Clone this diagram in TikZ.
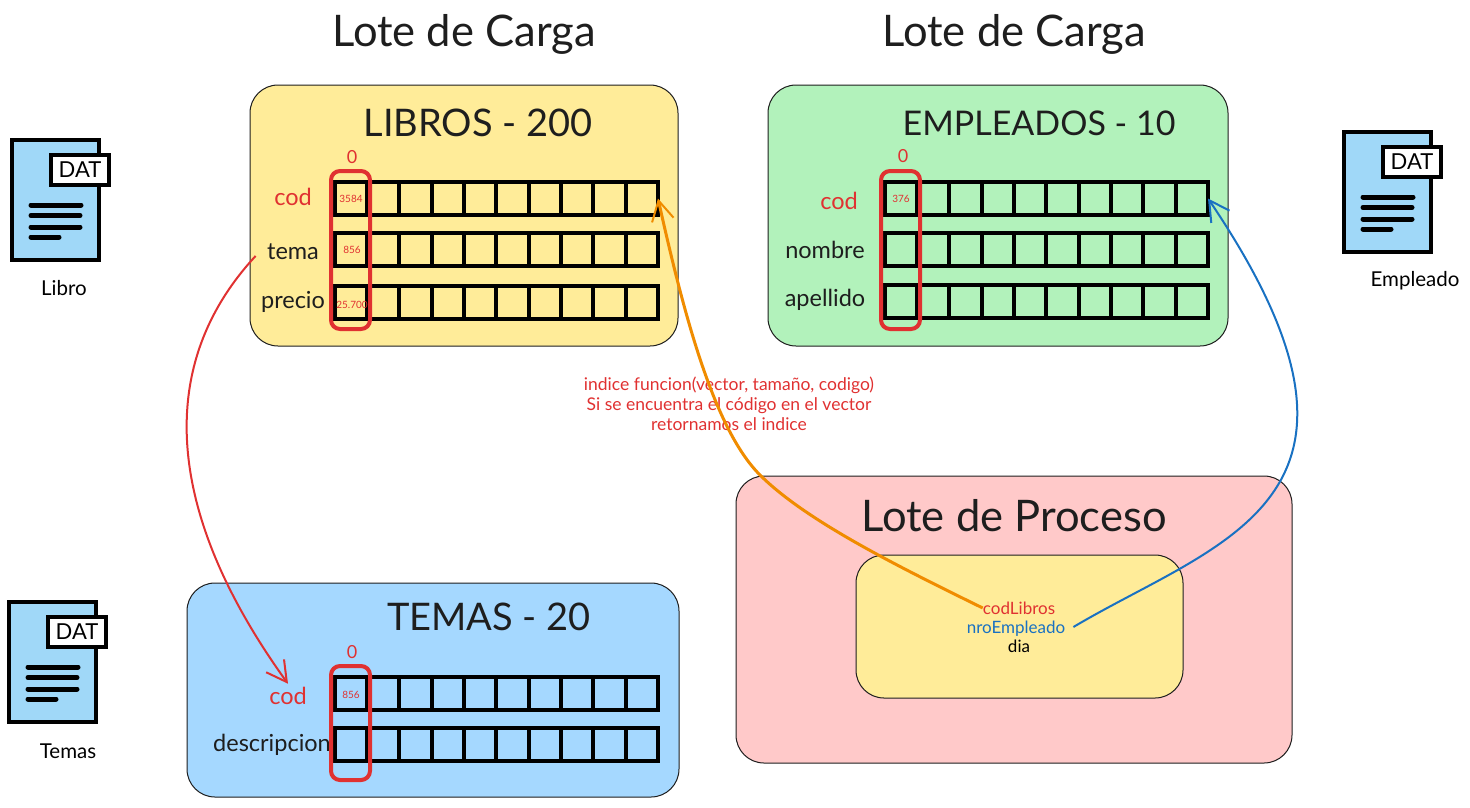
\documentclass[tikz,border=0pt]{standalone}
\usepackage{fontspec}
\setmainfont{Lato}
\usetikzlibrary{arrows.meta}

\definecolor{inkdark}{HTML}{1E1E1E}
\definecolor{inkred}{HTML}{E03131}
\definecolor{inkorange}{HTML}{F08C00}
\definecolor{inkblue}{HTML}{1971C2}
\definecolor{fillyellow}{HTML}{FFEC99}
\definecolor{fillgreen}{HTML}{B2F2BB}
\definecolor{fillblue}{HTML}{A5D8FF}
\definecolor{fillpink}{HTML}{FFC9C9}
\definecolor{filefill}{HTML}{A0D8F8}

\tikzset{
	panel/.style={draw=inkdark,line width=1pt,rounded corners=28pt,inner sep=0pt},
	rowbox/.style={draw=black,line width=4pt,minimum width=323.5pt,minimum height=33pt,inner sep=0pt,outer sep=0pt},
	slotmark/.style={draw=inkred,line width=4pt,rounded corners=9pt,inner sep=0pt,minimum width=39pt},
	bigtitle/.style={text=inkdark,font=\fontsize{43.5}{48}\selectfont},
	boxtitle/.style={text=inkdark,font=\fontsize{38}{42}\selectfont},
	fieldname/.style={text=inkdark,font=\fontsize{23.5}{28}\selectfont},
	slotvalue/.style={text=inkred,font=\fontsize{10}{11}\selectfont,inner sep=0pt},
	slotindex/.style={text=inkred,font=\fontsize{18}{20}\selectfont},
	filename/.style={text=black,font=\fontsize{20.5}{24}\selectfont},
	recfield/.style={font=\fontsize{17}{19}\selectfont,inner sep=0pt},
	linkline/.style={line width=2pt,-{Straight Barb[length=20pt,width=22pt,line width=2pt]}}
}

% one row of ten slots, west end at x
\newcommand{\slotrow}[3]{
	\node[rowbox,anchor=west] (#1) at (#2,#3) {};
	\foreach \i in {1,...,9}
		\draw[black,line width=4pt] (#2+32.35*\i,#3-16.5) -- (#2+32.35*\i,#3+16.5);
}

\begin{document}
\begin{tikzpicture}[x=1pt,y=-1pt]
	\useasboundingbox (0,0) rectangle (1470,807);

	% panels
	\node[panel,fill=fillyellow,minimum width=428pt,minimum height=261pt] (libros) at (464,215.5) {};
	\node[panel,fill=fillgreen,minimum width=460pt,minimum height=261pt] (empleados) at (998,215.5) {};
	\node[panel,fill=fillblue,minimum width=492pt,minimum height=214pt] (temas) at (433,690) {};
	\node[panel,fill=fillpink,minimum width=556pt,minimum height=287pt] (proceso) at (1014,619.5) {};
	\node[panel,fill=fillyellow,minimum width=327pt,minimum height=143pt] (registro) at (1019.5,626.5) {};

	% titles
	\node[bigtitle] (cargaA) at (464,34) {Lote de Carga};
	\node[bigtitle] (cargaB) at (1014,34) {Lote de Carga};
	\node[boxtitle] (tituloLibros) at (478,123) {LIBROS - 200};
	\node[boxtitle,font=\fontsize{34}{38}\selectfont] (tituloEmpleados) at (1039,123) {EMPLEADOS - 10};
	\node[boxtitle] (tituloTemas) at (489,617) {TEMAS - 20};
	\node[bigtitle] (tituloProceso) at (1014,516) {Lote de Proceso};

	% vectors
	\slotrow{libA}{334.5}{198.5}
	\slotrow{libB}{334.5}{249.5}
	\slotrow{libC}{334.5}{302}
	\slotrow{empA}{884.5}{198.5}
	\slotrow{empB}{884.5}{249.5}
	\slotrow{empC}{884.5}{301.5}
	\slotrow{temA}{334.5}{693.5}
	\slotrow{temB}{334.5}{744.5}

	\node[fieldname,text=inkred] (codLib) at (293,197) {cod};
	\node[fieldname] (temaLib) at (293,252) {tema};
	\node[fieldname] (precioLib) at (293,302) {precio};
	\node[fieldname,text=inkred] (codEmp) at (839,201) {cod};
	\node[fieldname] (nombreEmp) at (825,250) {nombre};
	\node[fieldname] (apellidoEmp) at (825,300) {apellido};
	\node[fieldname,text=inkred] (codTem) at (288,696) {cod};
	\node[fieldname] (descTem) at (272,745) {descripcion};

	\node[slotmark,minimum height=158pt] (markLib) at (350.5,250) {};
	\node[slotmark,minimum height=158pt] (markEmp) at (900.5,250) {};
	\node[slotmark,minimum height=114pt] (markTem) at (350.5,723) {};

	\node[slotindex] (indexLib) at (352,157) {0};
	\node[slotindex] (indexEmp) at (903,156) {0};
	\node[slotindex] (indexTem) at (352,652) {0};

	\node[slotvalue] (valA) at (351,199) {3584};
	\node[slotvalue] (valB) at (352,250) {856};
	\node[slotvalue] (valC) at (352,305) {25.700};
	\node[slotvalue] (valD) at (901,199) {376};
	\node[slotvalue] (valE) at (351,695) {856};

	% data files
	\foreach \n/\x/\y/\t in {libro/12/140/Libro,empleado/1344/132/Empleado,tema/9/602/Temas}{
		\node[draw=black,fill=filefill,line width=4pt,minimum width=87pt,minimum height=120pt,anchor=north west,inner sep=0pt,outer sep=0pt] (file\n) at (\x,\y) {};
		\node[draw=black,fill=white,line width=4pt,minimum width=58pt,minimum height=30pt,anchor=north west,inner sep=0pt,outer sep=0pt,font=\fontsize{22}{24}\selectfont] (tag\n) at (\x+39,\y+15) {DAT};
		\draw[black,line width=5pt,line cap=round] (\x+19,\y+65) -- (\x+69,\y+65);
		\draw[black,line width=5pt,line cap=round] (\x+19,\y+75.5) -- (\x+68,\y+75.5);
		\draw[black,line width=5pt,line cap=round] (\x+19,\y+87) -- (\x+68,\y+87);
		\draw[black,line width=5pt,line cap=round] (\x+19,\y+97) -- (\x+47,\y+97);
	}
	\node[filename] (nameLibro) at (64,288) {Libro};
	\node[filename] (nameEmpleado) at (1415,281) {Empleado};
	\node[filename] (nameTemas) at (68,751) {Temas};

	% process record
	\node[recfield,text=inkred] (codLibros) at (1019,608) {codLibros};
	\node[recfield,text=inkblue] (nroEmpleado) at (1016,629) {nroEmpleado};
	\node[recfield,text=black] (dia) at (1019,646) {dia};

	\node[text=inkred,align=center,font=\fontsize{17.5}{20}\selectfont] (nota) at (729,404) {indice funcion(vector, tamaño, codigo)\\Si se encuentra el código en el vector\\retornamos el indice};

	% links
	\draw[linkline,inkred] (temaLib.west) ++(-8,4) .. controls (150,370) and (170,520) .. (codTem.north);
	\draw[linkline,inkorange,line width=3pt] (codLibros.west) .. controls (895,565) and (805,520) .. (760,475) .. controls (715,430) and (685,320) .. (libA.east);
	\draw[linkline,inkblue] (nroEmpleado.east) ++(8,-2) .. controls (1220,540) and (1412,500) .. (empA.east);
\end{tikzpicture}
\end{document}
